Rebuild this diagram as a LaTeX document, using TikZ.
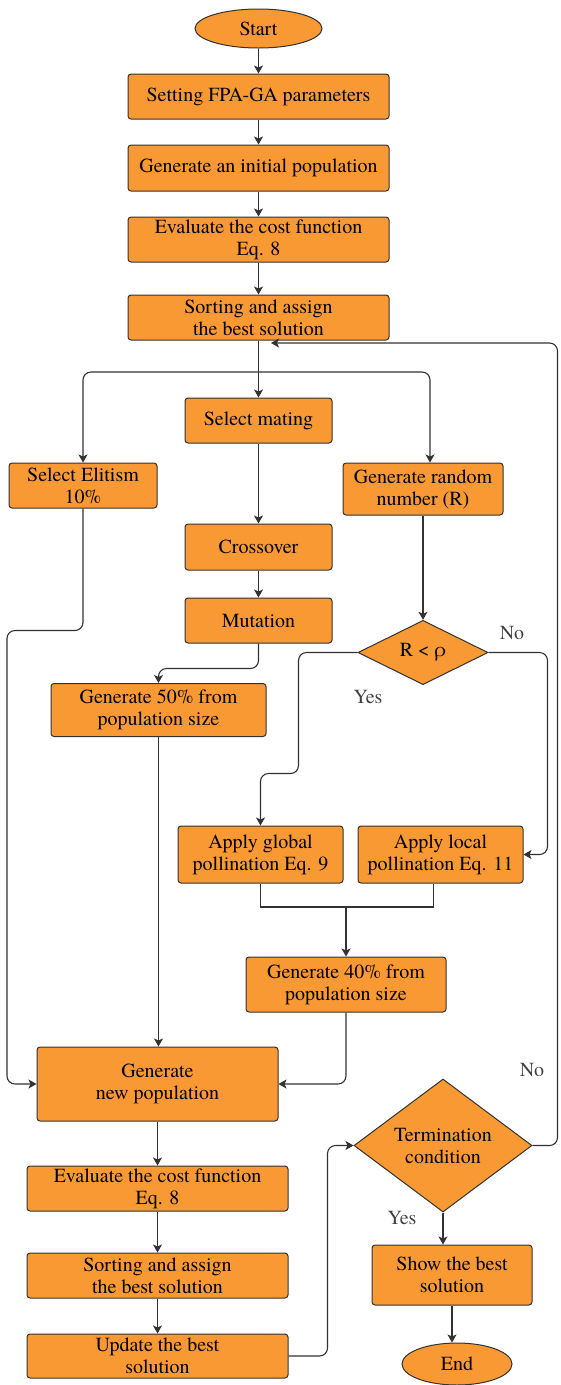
\documentclass[tikz,border=0pt]{standalone}
\usepackage{fontspec}
\setmainfont{texgyretermes}[Extension=.otf, UprightFont=*-regular, BoldFont=*-bold, ItalicFont=*-italic, BoldItalicFont=*-bolditalic]
\usetikzlibrary{arrows.meta,shapes.geometric,calc}
\definecolor{fcfill}{RGB}{248,153,51}
\definecolor{fcdraw}{RGB}{50,50,50}
\tikzset{
  fc/process/.style={draw=fcdraw, fill=fcfill, rectangle, rounded corners=3pt, line width=1pt, inner sep=0pt, align=center, font=\fontsize{20}{22}\selectfont},
  fc/terminal/.style={fc/process, ellipse, rounded corners=0pt},
  fc/decision/.style={fc/process, diamond, rounded corners=0pt},
  fc/size/.style 2 args={minimum width=#1pt, minimum height=#2pt},
  fc/line/.style={draw=fcdraw, line width=1.1pt},
  fc/arrow/.style={fc/line, rounded corners=8pt, -{Stealth[length=8pt,width=9pt,inset=2pt]}},
  fc/label/.style={font=\fontsize{20}{22}\selectfont, text=black!75, inner sep=0pt}
}
\begin{document}
\begin{tikzpicture}[x=1pt, y=-1pt]
  \useasboundingbox (0,0) rectangle (560,1385);

  % main column
  \node[fc/terminal, fc/size={127}{39}] (start) at (258.5,28.5) {Start};
  \node[fc/process, fc/size={261}{45}] (setpar) at (258.5,96.5) {Setting FPA-GA parameters};
  \node[fc/process, fc/size={261}{46}] (initpop) at (258.5,168) {Generate an initial population};
  \node[fc/process, fc/size={261}{45}] (eval) at (258.5,239.5) {Evaluate the cost function\\Eq. 8};
  \node[fc/process, fc/size={261}{45}] (sort) at (258.5,317.5) {Sorting and assign\\the best solution};

  % three branches
  \node[fc/process, fc/size={147}{45}] (mating) at (258.5,420.5) {Select mating};
  \node[fc/process, fc/size={148}{45}] (elitism) at (83,485.5) {Select Elitism\\10\%};
  \node[fc/process, fc/size={160}{52}] (random) at (423,489) {Generate random\\number (R)};
  \node[fc/process, fc/size={147}{46}] (crossover) at (258.5,547) {Crossover};
  \node[fc/process, fc/size={147}{45}] (mutation) at (258.5,620.5) {Mutation};
  \node[fc/decision, fc/size={130}{63}] (rcheck) at (423,652.5) {R < ρ};
  \node[fc/process, fc/size={215}{53}] (gen50) at (158.5,710) {Generate 50\% from\\population size};
  \node[fc/process, fc/size={165}{57}] (global) at (260.5,854.5) {Apply global\\pollination Eq. 9};
  \node[fc/process, fc/size={165}{57}] (local) at (440.5,854.5) {Apply local\\pollination Eq. 11};
  \node[fc/process, fc/size={200}{55}] (gen40) at (346,984.5) {Generate 40\% from\\population size};

  % merge and loop
  \node[fc/process, fc/size={241}{74}] (newpop) at (157.5,1084) {Generate\\new population};
  \node[fc/process, fc/size={261}{45}] (eval2) at (157.5,1188.5) {Evaluate the cost function\\Eq. 8};
  \node[fc/process, fc/size={261}{45}] (sort2) at (157.5,1275.5) {Sorting and assign\\the best solution};
  \node[fc/process, fc/size={261}{44}] (update) at (157.5,1356) {Update the best\\solution};
  \node[fc/decision, fc/size={178}{123}] (term) at (443,1145.5) {Termination\\condition};
  \node[fc/process, fc/size={160}{60}] (show) at (452,1275) {Show the best\\solution};
  \node[fc/terminal, fc/size={110}{42}] (stop) at (457,1364) {End};

  \node[fc/label] (no1) at (512,633) {No};
  \node[fc/label] (yes1) at (368,697) {Yes};
  \node[fc/label] (no2) at (532,1070) {No};
  \node[fc/label] (yes2) at (402,1218) {Yes};

  \coordinate (split) at (258.5,372);
  \coordinate (join) at (346,907);
  \coordinate (loopin) at (271,343);

  \draw[fc/arrow] (start) -- (setpar);
  \draw[fc/arrow] (setpar) -- (initpop);
  \draw[fc/arrow] (initpop) -- (eval);
  \draw[fc/arrow] (eval) -- (sort);
  \draw[fc/arrow] (sort) -- (mating);
  \draw[fc/arrow] (split) -| (elitism.north);
  \draw[fc/arrow] (split) -| ([xshift=7pt]random.north);
  \draw[fc/arrow] (mating) -- (crossover);
  \draw[fc/arrow] (crossover) -- (mutation);
  \draw[fc/arrow] (mutation.south) -- ++(0,25) -| (gen50.north);
  \draw[fc/arrow] (random) -- (rcheck);
  \draw[fc/arrow] (rcheck.west) -- ++(-59,0) -- ++(0,121) -| (global.north);
  \draw[fc/arrow] (rcheck.east) -- ++(59,0) |- (local.east);
  \draw[fc/line] (global.south) |- (join) -| ([xshift=-7pt]local.south);
  \draw[fc/arrow] (join) -- (gen40);
  \draw[fc/arrow] (gen50.south) -- (gen50.south |- newpop.north);
  \draw[fc/arrow] (elitism.south) -- ++(0,122) -- ++(-76,0) |- (newpop.west);
  \draw[fc/arrow] (gen40.south) |- (newpop.east);
  \draw[fc/arrow] (newpop) -- (eval2);
  \draw[fc/arrow] (eval2) -- (sort2);
  \draw[fc/arrow] (sort2) -- (update);
  \draw[fc/arrow] (update.east) -- ++(39,0) |- (term.west);
  \draw[fc/arrow] (term.south) -- (term.south |- show.north);
  \draw[fc/arrow] (show.south) -- (show.south |- stop.north);
  \draw[fc/arrow] (term.east) -- ++(25,0) |- (loopin);
\end{tikzpicture}
\end{document}
